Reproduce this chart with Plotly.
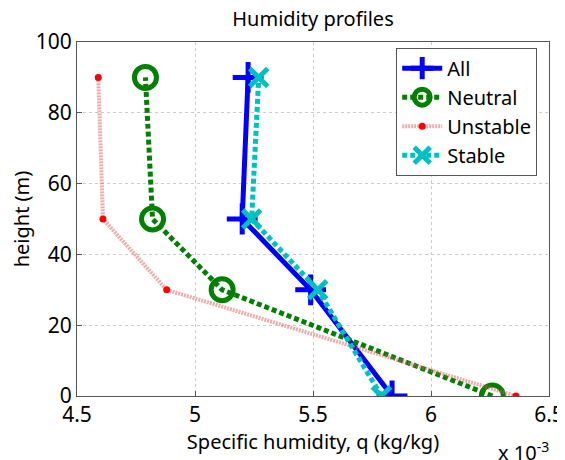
import plotly.graph_objects as go

heights = [0, 30, 50, 90]
q_all = [5.835e-3, 5.49e-3, 5.20e-3, 5.225e-3]
q_neutral = [6.26e-3, 5.115e-3, 4.82e-3, 4.79e-3]
q_unstable = [6.36e-3, 4.88e-3, 4.61e-3, 4.59e-3]
q_stable = [5.79e-3, 5.52e-3, 5.24e-3, 5.27e-3]
x_ticks = [4.5e-3, 5.0e-3, 5.5e-3, 6.0e-3, 6.5e-3]
x_ticktext = ["4.5", "5", "5.5", "6", "6.5"]
y_ticks = [0, 20, 40, 60, 80, 100]

FONT = "Noto Sans"
fig = go.Figure()
fig.add_trace(go.Scatter(x=q_all, y=heights, name="All", mode="lines+markers",
                         line=dict(color="#0000ff", width=5),
                         marker=dict(symbol="cross-thin", size=22, line=dict(color="#0000ff", width=5))))
fig.add_trace(go.Scatter(x=q_neutral, y=heights, name="Neutral", mode="lines+markers",
                         line=dict(color="#008000", width=5, dash="5px,3px"),
                         marker=dict(symbol="circle-open", size=22, color="#008000", line=dict(color="#008000", width=5))))
fig.add_trace(go.Scatter(x=q_unstable, y=heights, name="Unstable", mode="lines+markers",
                         line=dict(color="rgba(215,90,90,0.5)", width=4, dash="2px,1px"),
                         marker=dict(symbol="circle", size=7, color="#ff0000")))
fig.add_trace(go.Scatter(x=q_stable, y=heights, name="Stable", mode="lines+markers",
                         line=dict(color="#00c0c0", width=5, dash="5px,3px"),
                         marker=dict(symbol="x-thin", size=18, line=dict(color="#00c0c0", width=5))))

axis_common = dict(showline=True, linecolor="#555555", linewidth=1, mirror=True,
                   ticks="inside", ticklen=5, tickcolor="#555555", automargin=False,
                   showgrid=True, gridcolor="#cccccc", griddash="dot", gridwidth=1,
                   zeroline=False, tickfont=dict(family=FONT, size=21, color="black"))
fig.update_xaxes(range=[4.5e-3, 6.5e-3], tickvals=x_ticks, ticktext=x_ticktext,
                 title=dict(text="Specific humidity, q (kg/kg)", font=dict(family=FONT, size=20, color="black"), standoff=0),
                 **axis_common)
fig.update_yaxes(range=[0, 100], tickvals=y_ticks,
                 title=dict(text="height (m)", font=dict(family=FONT, size=20, color="black"), standoff=8),
                 **axis_common)
fig.update_layout(
    width=557, height=452,
    margin=dict(l=69, r=16, t=34, b=64),
    paper_bgcolor="white", plot_bgcolor="white",
    font=dict(family=FONT, color="black"),
    title=dict(text="Humidity profiles", xref="paper", x=0.5, xanchor="center",
               yref="container", y=0.976, yanchor="middle",
               font=dict(family=FONT, size=20, color="black")),
    legend=dict(x=0.975, y=0.984, xanchor="right", yanchor="top",
                bgcolor="white", bordercolor="#555555", borderwidth=1,
                font=dict(family=FONT, size=20, color="black"),
                itemwidth=40, tracegroupgap=0),
    showlegend=True,
    annotations=[dict(text="x 10<sup>-3</sup>", xref="paper", yref="paper", x=1.004, y=-0.11,
                      xanchor="right", yanchor="top", showarrow=False,
                      font=dict(family=FONT, size=20, color="black"))],
)
fig.write_html("out.html")
